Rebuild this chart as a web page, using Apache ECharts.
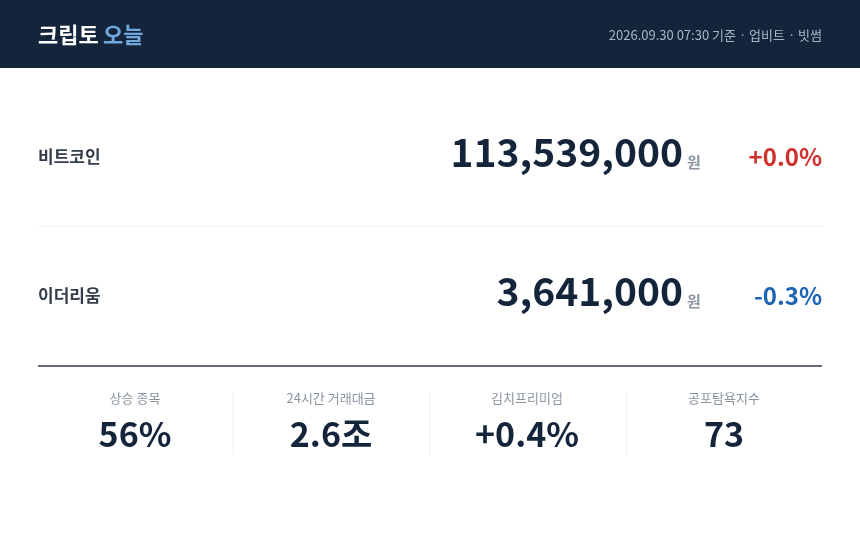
<!DOCTYPE html>
<html><head><meta charset="utf-8">
<script src="https://cdn.jsdelivr.net/npm/echarts@6/dist/echarts.min.js"></script>
<style>html,body{margin:0;padding:0;background:#fff}#c{width:860px;height:549px}</style>
</head><body><div id="c"></div>
<script>
const coinNames = ['비트코인', '이더리움'];
const coinPrices = ['113,539,000', '3,641,000'];
const coinChanges = ['+0.0%', '-0.3%'];
const statLabels = ['상승 종목', '24시간 거래대금', '김치프리미엄', '공포탐욕지수'];
const statValues = ['56%', '2.6조', '+0.4%', '73'];
const F = '"Noto Sans CJK KR","Noto Sans",sans-serif';
const els = [];
els.push({type:'rect',shape:{x:0,y:0,width:860,height:68},style:{fill:'#13243b'}});
els.push({type:'text',x:38,y:35,style:{text:'크립토',fill:'#fff',font:'bold 22px '+F,textVerticalAlign:'middle'}});
els.push({type:'text',x:103,y:35,style:{text:'오늘',fill:'#6fa8dc',font:'bold 22px '+F,textVerticalAlign:'middle'}});
els.push({type:'text',x:822,y:35,style:{text:'2026.09.30 07:30 기준 · 업비트 · 빗썸',fill:'#a9b6c6',font:'13px '+F,textAlign:'right',textVerticalAlign:'middle'}});
const rowY=[157,296];
coinNames.forEach((n,i)=>{
  const y=rowY[i];
  els.push({type:'text',x:38,y:y,style:{text:n,fill:'#333d4b',font:'bold 17px '+F,textVerticalAlign:'middle'}});
  els.push({type:'text',x:683,y:y+15,style:{text:coinPrices[i],fill:'#13243b',font:'bold 39px '+F,textAlign:'right',textVerticalAlign:'bottom'}});
  els.push({type:'text',x:687,y:y+13,style:{text:'원',fill:'#8b95a1',font:'bold 15px '+F,textVerticalAlign:'bottom'}});
  const up=coinChanges[i][0]==='+';
  els.push({type:'text',x:822,y:y,style:{text:coinChanges[i],fill:up?'#d0312d':'#1e64b4',font:'bold 24px '+F,textAlign:'right',textVerticalAlign:'middle'}});
});
els.push({type:'line',shape:{x1:38,y1:226,x2:822,y2:226},style:{stroke:'#eceef1',lineWidth:1}});
els.push({type:'line',shape:{x1:38,y1:366,x2:822,y2:366},style:{stroke:'#333d4b',lineWidth:1.5}});
const cx=[135,331,527,724];
statLabels.forEach((l,i)=>{
  els.push({type:'text',x:cx[i],y:398,style:{text:l,fill:'#8b95a1',font:'13px '+F,textAlign:'center',textVerticalAlign:'middle'}});
  els.push({type:'text',x:cx[i],y:434,style:{text:statValues[i],fill:'#13243b',font:'bold 34px '+F,textAlign:'center',textVerticalAlign:'middle'}});
  if(i<3){const sx=[233,430,627][i];els.push({type:'line',shape:{x1:sx,y1:392,x2:sx,y2:455},style:{stroke:'#eceef1',lineWidth:1}});}
});
const chart=echarts.init(document.getElementById('c'));
chart.setOption({animation:false,graphic:{elements:els}});
</script></body></html>
